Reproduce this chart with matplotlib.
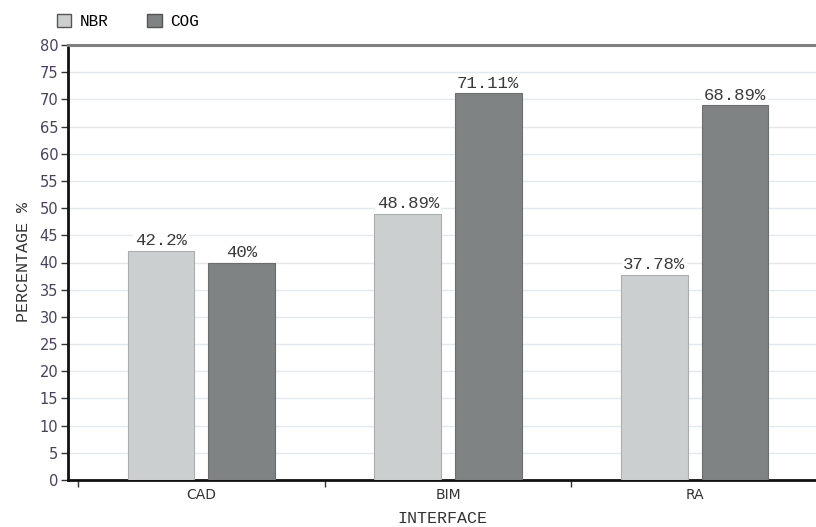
import matplotlib
matplotlib.use("Agg")
import matplotlib.pyplot as plt
import numpy as np

categories = ["CAD", "BIM", "RA"]
series_names = ["NBR", "COG"]
nbr = [42.2, 48.89, 37.78]
cog = [40, 71.11, 68.89]
nbr_labels = ["42.2%", "48.89%", "37.78%"]
cog_labels = ["40%", "71.11%", "68.89%"]
colors = ["#cbcfcf", "#7f8383"]
edges = ["#a9adad", "#6a6e6e"]

fig = plt.figure(figsize=(8.16, 5.27), dpi=100)
ax = fig.add_axes([68/816, 47/527, 748/816, 435/527])

x = np.arange(len(categories))
w = 0.27
off = 0.163
for vals, labs, c, e, d in [(nbr, nbr_labels, colors[0], edges[0], -off),
                            (cog, cog_labels, colors[1], edges[1], off)]:
    bars = ax.bar(x + d, vals, width=w, color=c, edgecolor=e, linewidth=0.8, zorder=3)
    for b, lab in zip(bars, labs):
        ax.text(b.get_x() + b.get_width()/2, b.get_height() + 0.5, lab,
                ha="center", va="bottom", fontsize=12.5, family="Liberation Mono",
                color="#3a3a3a", zorder=5,
                bbox=dict(boxstyle="square,pad=0.1", fc="white", ec="none"))

ax.set_ylim(0, 80)
ax.set_xlim(-0.5 - 10/246.7, 2.5 - 2/246.7)
ax.set_yticks(np.arange(0, 81, 5))
ax.yaxis.grid(True, color="#e3e9f0", linewidth=1, zorder=0)
ax.set_axisbelow(True)
ax.axhline(80, color="#808080", linewidth=2.2, zorder=4, clip_on=False)

ax.set_xticks([-0.5, 0.5, 1.5], minor=False)
ax.set_xticklabels([])
ax.set_xticks(x, minor=True)
ax.set_xticklabels(categories, minor=True, fontsize=10, color="#333333")
ax.tick_params(axis="x", which="minor", length=0, pad=6)
ax.tick_params(axis="x", which="major", length=5, width=1, color="#333333")
ax.tick_params(axis="y", length=5, width=1, color="#333333", labelsize=10.5,
               labelcolor="#4a4060", pad=2)

for s in ["top", "right"]:
    ax.spines[s].set_visible(False)
for s in ["left", "bottom"]:
    ax.spines[s].set_linewidth(2)
    ax.spines[s].set_color("#111111")

ax.set_ylabel("PERCENTAGE %", fontsize=12, family="Liberation Mono", color="#333333", labelpad=6)
ax.set_xlabel("INTERFACE", fontsize=12, family="Liberation Mono", color="#333333", labelpad=6)

# legend
handles = [plt.Rectangle((0, 0), 1, 1, fc=colors[i], ec="#555555", lw=1) for i in range(2)]
fig.legend(handles, series_names, loc="upper left", bbox_to_anchor=(57/816, 1 - 14/527),
           ncol=2, frameon=False, prop={"family": "Liberation Mono", "size": 11.5},
           handlelength=0.9, handleheight=0.9, columnspacing=2.4, handletextpad=0.55,
           borderaxespad=0, borderpad=0)

fig.savefig("out.png", dpi=100)
